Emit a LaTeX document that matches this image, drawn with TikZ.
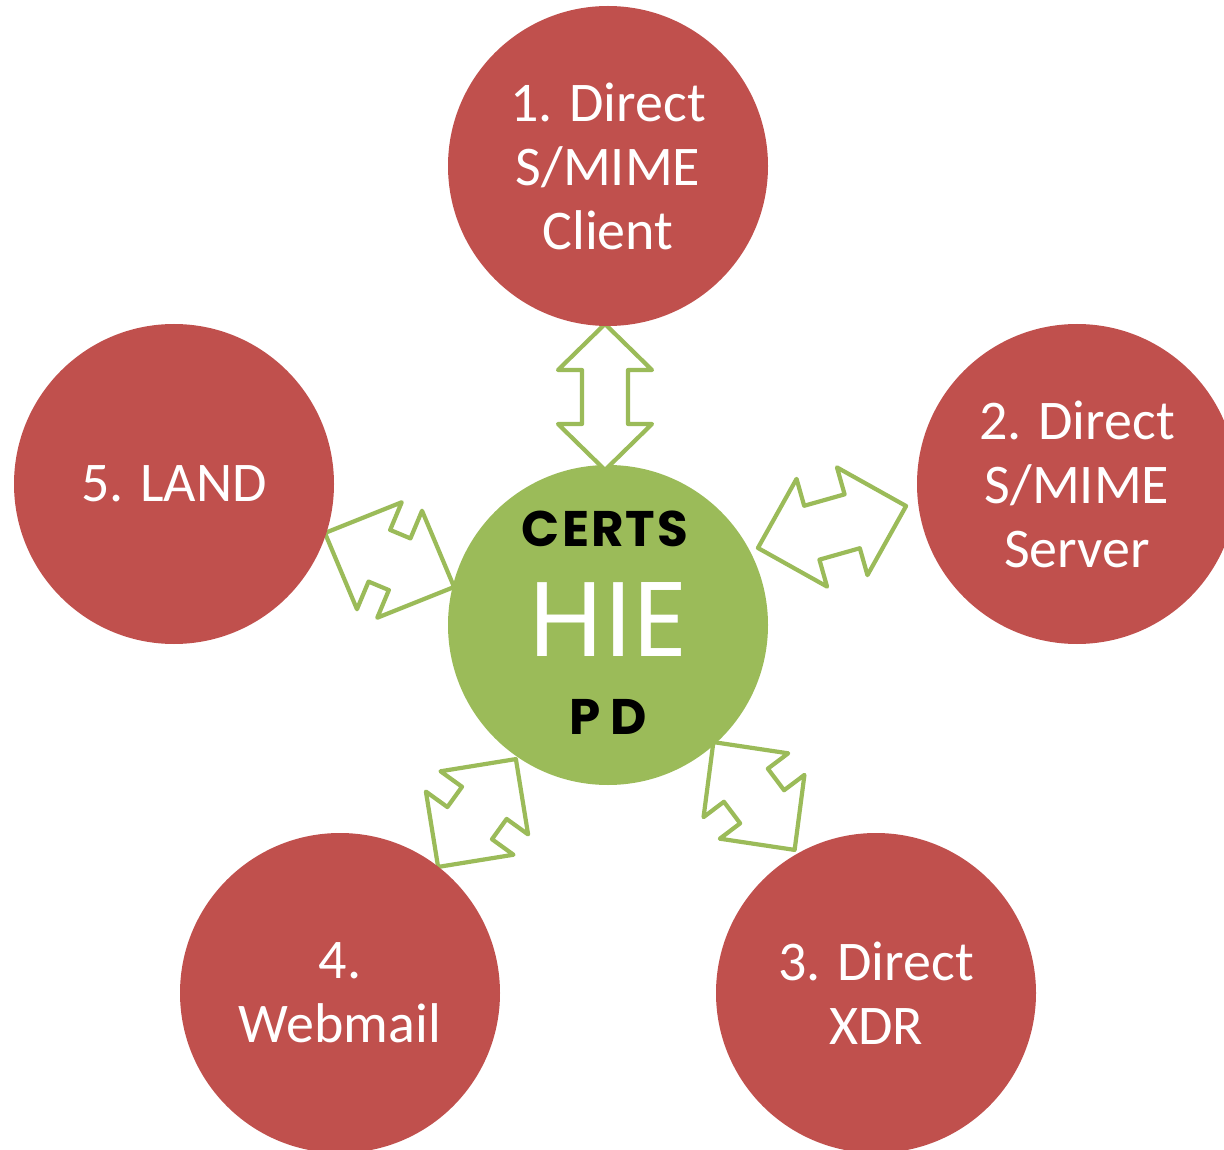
\documentclass[tikz,border=0pt]{standalone}
\usepackage{fontspec}
\setmainfont{Carlito}
\newfontfamily\geofont{Poppins}
\definecolor{redfill}{HTML}{C0504D}
\definecolor{greenfill}{HTML}{9BBB59}
\tikzset{
  redc/.style={circle, fill=redfill, minimum size=320pt, inner sep=0pt, text=white,
    align=center, font=\fontsize{56}{64}\selectfont},
  hub/.style={circle, fill=greenfill, minimum size=320pt, inner sep=0pt},
  blockarrow/.style={draw=greenfill, fill=white, line width=4.2pt, line join=round},
  hubbold/.style={inner sep=0pt, text=black, font=\geofont\bfseries\fontsize{50}{60}\selectfont},
  hubbig/.style={inner sep=0pt, text=white, font=\geofont\fontsize{106}{120}\selectfont},
}
% #1 cx, #2 cy (image px, y down), #3 angle, #4 length, #5 head length, #6 head half-width, #7 shaft half-width
\newcommand{\hollowarrow}[7]{%
  \begin{scope}[shift={(#1,-#2)}, rotate=#3]
    \draw[blockarrow] ({-#4/2},0) -- ({-#4/2+#5},{#6}) -- ({-#4/2+#5},{#7})
      -- ({#4/2-#5},{#7}) -- ({#4/2-#5},{#6}) -- ({#4/2},0)
      -- ({#4/2-#5},{-#6}) -- ({#4/2-#5},{-#7}) -- ({-#4/2+#5},{-#7})
      -- ({-#4/2+#5},{-#6}) -- cycle;
  \end{scope}}
\begin{document}
\begin{tikzpicture}[x=1pt, y=1pt]
  \path[use as bounding box, clip] (0,0) rectangle (1224,-1150);
  \node[hub] (hub) at (608,-625) {};
  \node[hubbold] (certs) at (605,-528.5) {\addfontfeatures{LetterSpace=4}CERTS};
  \node[hubbig] (hie) at (609,-620) {\addfontfeatures{LetterSpace=2}HIE};
  \node[hubbold] (pd) at (608,-716.5) {\addfontfeatures{LetterSpace=20}PD};
  % hollow double arrows
  \hollowarrow{605}{397}{90}{146}{46}{47}{23}
  \hollowarrow{832}{527}{15.8}{154}{56}{56}{28}
  \hollowarrow{389.5}{560}{-22.7}{140}{59}{58}{28}
  \hollowarrow{477}{813}{54.2}{133}{54}{54}{27.5}
  \hollowarrow{754}{796}{-53}{135}{54}{53}{27.5}
  % outer circles
  \node[redc] (c1) at (608,-166) {1. Direct\\S/MIME\\Client};
  \node[redc] (c2) at (1077,-484) {2. Direct\\S/MIME\\Server};
  \node[redc] (c3) at (876,-993) {3. Direct\\XDR};
  \node[redc] (c4) at (340,-993) {4.\\Webmail};
  \node[redc] (c5) at (174,-484) {5. LAND};
\end{tikzpicture}
\end{document}
